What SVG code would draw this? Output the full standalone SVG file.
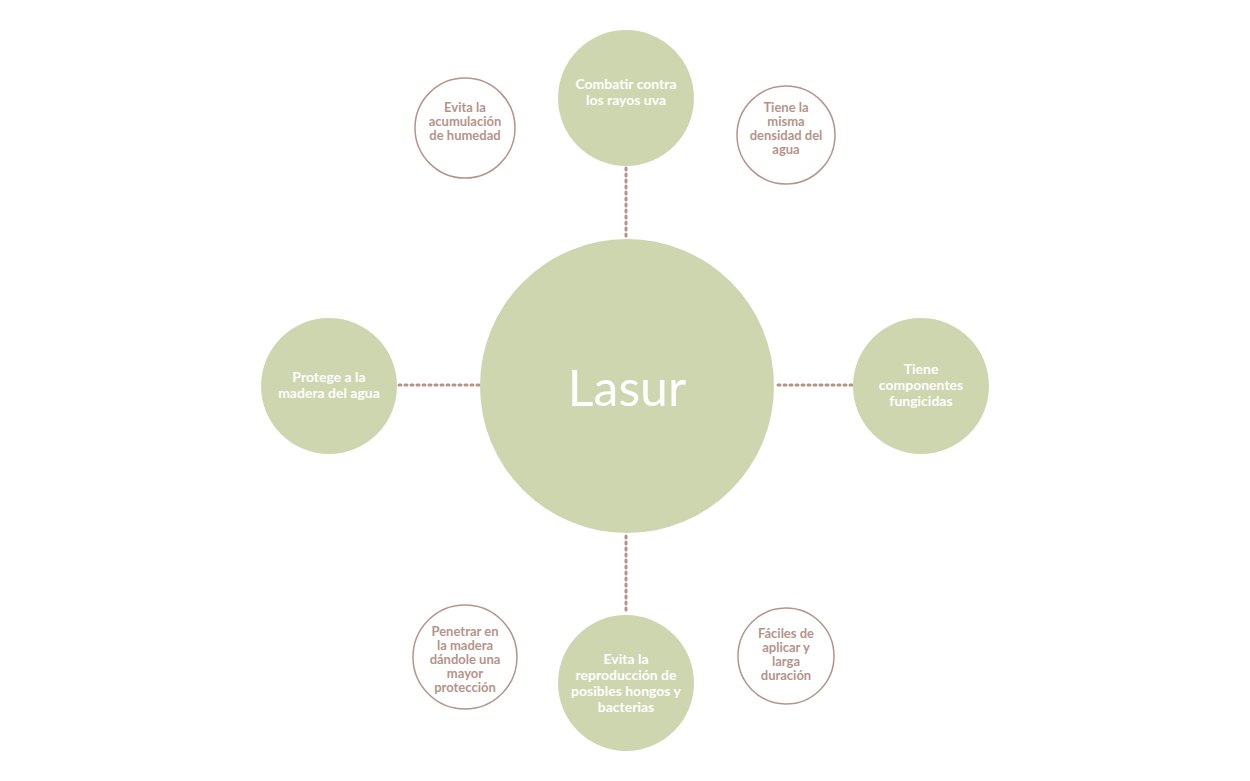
<svg xmlns="http://www.w3.org/2000/svg" width="1250" height="781" viewBox="0 0 1250 781">
<style>
.g{fill:#cdd6ae}
.o{fill:#fff;stroke:#b4948a;stroke-width:1.5}
.w{fill:#fff;font-family:Lato,"Liberation Sans",sans-serif;font-weight:bold;font-size:14px;text-anchor:middle}
.b{fill:#b4948a;font-family:Lato,"Liberation Sans",sans-serif;font-weight:bold;font-size:13px;text-anchor:middle}
.c{stroke:#b4948a;stroke-width:3;stroke-dasharray:2 4;stroke-linecap:round;fill:none}
</style>
<rect width="1250" height="781" fill="#fff"/>
<g id="connectors">
<line class="c" x1="626" y1="168" x2="626" y2="238"/>
<line class="c" x1="626" y1="536" x2="626" y2="614"/>
<line class="c" x1="399" y1="385" x2="480" y2="385"/>
<line class="c" x1="778" y1="385" x2="852" y2="385"/>
</g>
<g id="center"><circle class="g" cx="627" cy="386" r="147"/><text x="627" y="406" font-family="Lato,'Liberation Sans',sans-serif" font-size="50" fill="#fff" text-anchor="middle">Lasur</text></g>
<g id="top"><circle class="g" cx="626" cy="98" r="68"/><text class="w" x="626" y="89">Combatir contra</text><text class="w" x="626" y="105">los rayos uva</text></g>
<g id="bottom"><circle class="g" cx="626" cy="683" r="68"/><text class="w" x="626" y="664">Evita la</text><text class="w" x="626" y="680">reproducción de</text><text class="w" x="626" y="696">posibles hongos y</text><text class="w" x="626" y="712">bacterias</text></g>
<g id="left"><circle class="g" cx="329" cy="386" r="68"/><text class="w" x="329" y="382">Protege a la</text><text class="w" x="329" y="398">madera del agua</text></g>
<g id="right"><circle class="g" cx="921" cy="386" r="68"/><text class="w" x="921" y="374">Tiene</text><text class="w" x="921" y="390">componentes</text><text class="w" x="921" y="406">fungicidas</text></g>
<g id="tl"><circle class="o" cx="465" cy="128" r="50"/><text class="b" x="465" y="112">Evita la</text><text class="b" x="465" y="126">acumulación</text><text class="b" x="465" y="140">de humedad</text></g>
<g id="tr"><circle class="o" cx="786" cy="135" r="49"/><text class="b" x="786" y="112">Tiene la</text><text class="b" x="786" y="126">misma</text><text class="b" x="786" y="140">densidad del</text><text class="b" x="786" y="154">agua</text></g>
<g id="bl"><circle class="o" cx="465" cy="657" r="52"/><text class="b" x="465" y="636">Penetrar en</text><text class="b" x="465" y="650">la madera</text><text class="b" x="465" y="664">dándole una</text><text class="b" x="465" y="678">mayor</text><text class="b" x="465" y="692">protección</text></g>
<g id="br"><circle class="o" cx="786" cy="656" r="48"/><text class="b" x="786" y="638">Fáciles de</text><text class="b" x="786" y="652">aplicar y</text><text class="b" x="786" y="666">larga</text><text class="b" x="786" y="680">duración</text></g>
</svg>
